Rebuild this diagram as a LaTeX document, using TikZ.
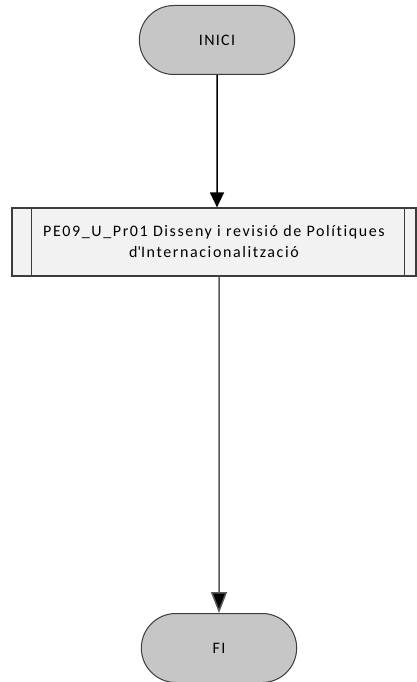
\documentclass[tikz,border=0pt]{standalone}
\usepackage{fontspec}
\setmainfont{Carlito}
\usetikzlibrary{positioning, arrows.meta, shapes.misc}
\definecolor{termgray}{RGB}{198, 198, 198}
\definecolor{procgray}{RGB}{242, 242, 242}
\definecolor{linegray}{RGB}{60, 60, 60}

\tikzset{
  terminal/.style={rounded rectangle, draw=linegray, fill=termgray, line width=1pt,
    minimum width=162pt, minimum height=69pt,
    font=\fontsize{16}{19}\selectfont\addfontfeature{LetterSpace=8}},
  procbox/.style={rectangle, draw=linegray, fill=procgray, line width=1.2pt,
    minimum width=404pt, minimum height=68pt, align=center, inner sep=1pt,
    font=\fontsize{16}{21}\selectfont\addfontfeature{LetterSpace=10,Ligatures=NoCommon}},
  flow/.style={line width=1.5pt, -{Triangle[length=15pt, width=14pt]}}
}

\begin{document}
\begin{tikzpicture}[x=1pt, y=-1pt]
\useasboundingbox (0,0) rectangle (417,682);
\node[terminal] (inici) at (217,40) {INICI};
\node[procbox] (proc) at (214,242) {PE09\_U\_Pr01 Disseny i revisió de Polítiques\\d\textquotesingle Internacionalització};
\draw[linegray, line width=1.2pt] ([xshift=20pt]proc.north west) -- ([xshift=20pt]proc.south west);
\draw[linegray, line width=1.2pt] ([xshift=-12pt]proc.north east) -- ([xshift=-12pt]proc.south east);
\node[terminal] (fi) at (219,648) {FI};
\draw[flow] (inici) -- (inici |- proc.north);
\draw[flow, black!65, -{Triangle[length=21pt, width=16pt, fill=black]}] (fi.north |- proc.south) -- (fi);
\end{tikzpicture}
\end{document}
